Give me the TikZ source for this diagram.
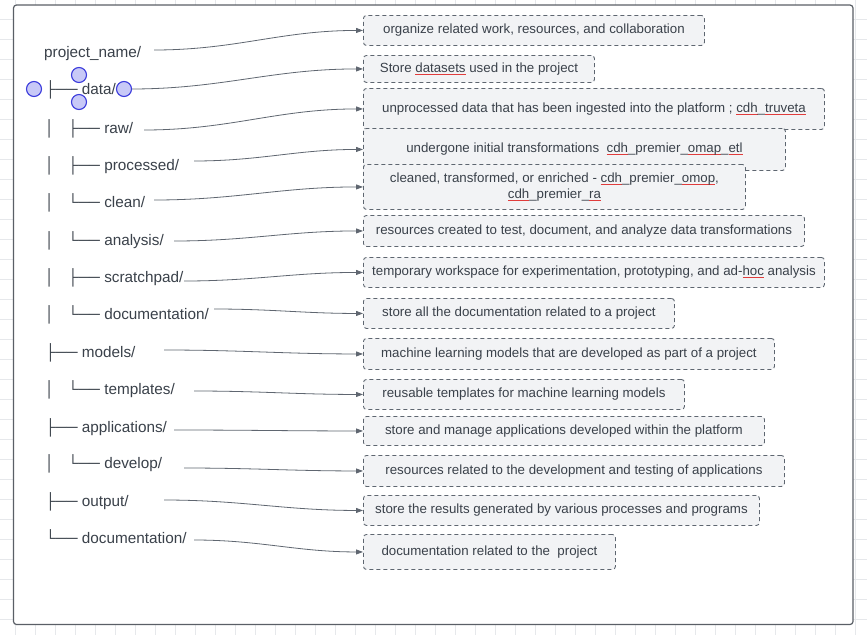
\documentclass[tikz,border=0pt]{standalone}
\usepackage{fontspec}
\setmainfont{Liberation Sans}
\usepackage{xcolor}
\usetikzlibrary{arrows.meta}

\definecolor{ink}{HTML}{3A414A}
\definecolor{wire}{HTML}{5F6670}
\definecolor{boxfill}{HTML}{F2F3F5}
\definecolor{boxline}{HTML}{5E6670}
\definecolor{frameline}{HTML}{5A5F66}
\definecolor{gridgray}{HTML}{E6E8EB}
\definecolor{spell}{HTML}{E03C3C}
\definecolor{handlefill}{HTML}{C8C9F7}
\definecolor{handleline}{HTML}{3C3CDC}

\newcommand{\treefont}{\fontsize{15.3}{18}\selectfont}
\newcommand{\descfont}{\fontsize{13.3}{16}\selectfont}
\newsavebox{\squigbox}
\newcommand{\squig}[1]{\sbox{\squigbox}{#1}\rlap{\color{spell}\rule[-2.3pt]{\wd\squigbox}{0.7pt}}\usebox{\squigbox}}

\begin{document}
\begin{tikzpicture}[x=1pt,y=-1pt]
    \tikzstyle{tree}=[anchor=base west,inner sep=0pt,text=ink,font=\treefont]
    \tikzstyle{desc}=[anchor=north west,draw=boxline,fill=boxfill,dash pattern=on 4pt off 3pt,rounded corners=3pt,line width=0.9pt,text=ink,font=\descfont,align=center,inner sep=2pt]
    \tikzstyle{link}=[draw=wire,line width=0.8pt,-{Triangle[length=7pt,width=5pt]}]
    \tikzstyle{handle}=[draw=handleline,fill=handlefill,line width=1.1pt]

    \useasboundingbox (0,0) rectangle (867,635);
    % canvas grid and frame
    \foreach \x in {15,35,...,855} \draw[gridgray,line width=0.8pt] (\x,0) -- (\x,635);
    \foreach \y in {19,39,...,619} \draw[gridgray,line width=0.8pt] (0,\y) -- (867,\y);
    \draw[frameline,line width=1.2pt,fill=white,rounded corners=3pt] (13.5,5) rectangle (853,624.5);

    % folder tree
    \node[tree] (l1) at (44,57) {project\_name/};
    \node[tree] (l2) at (45,94) {├── data/};
    \node[tree] (l3) at (45,133) {│~~~├── raw/};
    \node[tree] (l4) at (45,170) {│~~~├── processed/};
    \node[tree] (l5) at (45,207) {│~~~└── clean/};
    \node[tree] (l6) at (45,245) {│~~~└── analysis/};
    \node[tree] (l7) at (45,282) {│~~~├── scratchpad/};
    \node[tree] (l8) at (45,319) {│~~~└── documentation/};
    \node[tree] (l9) at (45,357) {├── models/};
    \node[tree] (l10) at (45,394) {│~~~└── templates/};
    \node[tree] (l11) at (45,432) {├── applications/};
    \node[tree] (l12) at (45,468) {│~~~└── develop/};
    \node[tree] (l13) at (45,506) {├── output/};
    \node[tree] (l14) at (45,543) {└── documentation/};

    % descriptions
    \node[desc,minimum width=341pt,minimum height=30pt] (t1) at (363,15) {organize related work, resources, and collaboration};
    \node[desc,minimum width=231pt,minimum height=27pt] (t2) at (363,55) {Store \squig{datasets} used in the project};
    \node[desc,minimum width=461pt,minimum height=41pt] (t3) at (363,88) {unprocessed data that has been ingested into the platform ; \squig{cdh}\_\squig{truveta}};
    \node[desc,minimum width=422pt,minimum height=42pt] (t4) at (363,128) {undergone initial transformations~ \squig{cdh}\_premier\_\squig{omap}\_\squig{etl}};
    \node[desc,minimum width=382pt,minimum height=45pt] (t5) at (363,164) {cleaned, transformed, or enriched - \squig{cdh}\_premier\_\squig{omop},\\ \squig{cdh}\_premier\_\squig{ra}};
    \node[desc,minimum width=441pt,minimum height=31pt] (t6) at (363,215) {resources created to test, document, and analyze data transformations};
    \node[desc,minimum width=461pt,minimum height=30pt] (t7) at (363,257) {temporary workspace for experimentation, prototyping, and ad-\squig{hoc} analysis};
    \node[desc,minimum width=311pt,minimum height=30pt] (t8) at (363,298) {store all the documentation related to a project};
    \node[desc,minimum width=411pt,minimum height=31pt] (t9) at (363,338) {machine learning models that are developed as part of a project};
    \node[desc,minimum width=321pt,minimum height=30pt] (t10) at (363,379) {reusable templates for machine learning models};
    \node[desc,minimum width=401pt,minimum height=29pt] (t11) at (363,416) {store and manage applications developed within the platform};
    \node[desc,minimum width=421pt,minimum height=31pt] (t12) at (363,455) {resources related to the development and testing of applications};
    \node[desc,minimum width=396pt,minimum height=30pt] (t13) at (363,495) {store the results generated by various processes and programs};
    \node[desc,minimum width=252pt,minimum height=35pt] (t14) at (363,534) {documentation related to the~ project};

    % links
    \foreach \i/\x/\y in {1/154/50, 2/131/89, 3/144/130, 4/194/161, 5/154/200, 6/174/241, 7/184/281,
        8/214/309, 9/164/350, 10/194/391, 11/174/430, 12/184/468, 13/164/500, 14/194/540} {
        \coordinate (s\i) at (\x,\y);
        \draw[link] (s\i) to[out=0,in=180] (t\i.west);
    }

    % selection handles on data/
    \draw[handle] (34,89) circle[radius=7.5pt];
    \draw[handle] (79,75) circle[radius=7.5pt];
    \draw[handle] (79,102) circle[radius=7.5pt];
    \draw[handle] (124,89) circle[radius=7.5pt];
\end{tikzpicture}
\end{document}
